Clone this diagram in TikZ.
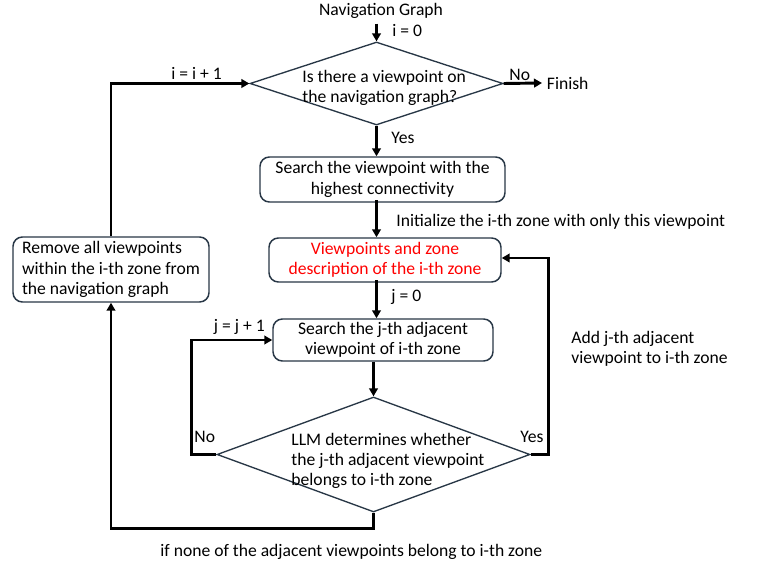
\documentclass[tikz,border=0pt]{standalone}
\usepackage{fontspec}
\setmainfont{Carlito}
\usetikzlibrary{shapes.geometric,arrows.meta}

\definecolor{boxline}{RGB}{40,55,70}
\definecolor{zonered}{RGB}{255,0,0}

\tikzset{every picture/.style={line width=0.75pt}}

\begin{document}
\begin{tikzpicture}[x=0.75pt,y=0.75pt,yscale=-1,xscale=1,
	font=\fontsize{13.2}{15.3}\selectfont,
	procbox/.style={draw=boxline,line width=1.1pt,rounded corners=7pt,fill=white,align=center,inner sep=0pt},
	decision/.style={draw=boxline,line width=1pt,diamond,inner sep=0pt,fill=white},
	flow/.style={line width=2.2pt,-{Triangle[length=6pt,width=6.5pt]}}]
	\useasboundingbox[fill=white] (0,0) rectangle (764,570);

	% Decision nodes
	\node[decision,minimum width=189.75pt,minimum height=62.25pt] (viewq) at (376.5,83.5) {};
	\node[decision,minimum width=234.75pt,minimum height=86.25pt] (belongq) at (373.5,454.5) {};

	% Process boxes
	\node[procbox,minimum width=183.75pt,minimum height=33.75pt] (search) at (382.5,179.5) {Search the viewpoint with the\\highest connectivity};
	\node[procbox,minimum width=174pt,minimum height=33pt,text=zonered] (zone) at (385,260) {Viewpoints and zone\\description of the i-th zone};
	\node[procbox,minimum width=165pt,minimum height=31.5pt] (adj) at (383,340) {Search the j-th adjacent\\viewpoint of i-th zone};
	\node[procbox,minimum width=147pt,minimum height=48.75pt,align=left] (remove) at (111,269.5) {Remove all viewpoints\\within the i-th zone from\\the navigation graph};

	% Text Node
	\node (nav) at (381,11) {Navigation Graph};
	\node[anchor=west] (finish) at (542,83) {Finish};
	\node[align=left,anchor=west] (viewqtext) at (297.5,88) {Is there a viewpoint on\\the navigation graph?};
	\node[align=left,anchor=west] (belongqtext) at (286.5,461) {LLM determines whether\\the j-th adjacent viewpoint\\belongs to i-th zone};

	%Straight Lines
	\draw[flow] (viewq.north |- nav.south) -- (viewq.north);
	\draw[flow] (viewq.east) -- (finish.west);
	\draw[flow] (viewq.south) -- (viewq.south |- search.north);
	\draw[flow] ([yshift=-2pt]viewq.south |- search.south) -- (viewq.south |- zone.north);
	\draw[flow] ([yshift=-2pt]viewq.south |- zone.south) -- (viewq.south |- adj.north);
	\draw[flow] (belongq.north |- adj.south) -- (belongq.north);
	\draw[flow] (belongq.west) -- ++(-25,0) |- (adj.west);
	\draw[flow] (belongq.east) -- ++(18,0) |- ([yshift=-1.5pt]zone.east);
	\draw[flow] (belongq.south) -- ++(0,16) -| (remove.south);
	\draw[flow] (remove.north) |- (viewq.west);

	% Text Node
	\draw (387.5,31) node[anchor=west] {i = 0};
	\draw (504.5,75) node[anchor=west] {No};
	\draw (386.5,138) node[anchor=west] {Yes};
	\draw (391.5,222) node[anchor=west] {Initialize the i-th zone with only this viewpoint};
	\draw (386.5,297) node[anchor=west] {j = 0};
	\draw (209,327) node[anchor=west] {j = j + 1};
	\draw (189.5,437) node[anchor=west] {No};
	\draw (515.5,437) node[anchor=west] {Yes};
	\draw (566.5,349) node[align=left,anchor=west] {Add j-th adjacent\\viewpoint to i-th zone};
	\draw (166.5,73) node[anchor=west] {i = i + 1};
	\draw (155.5,552) node[anchor=west] {if none of the adjacent viewpoints belong to i-th zone};

\end{tikzpicture}
\end{document}
